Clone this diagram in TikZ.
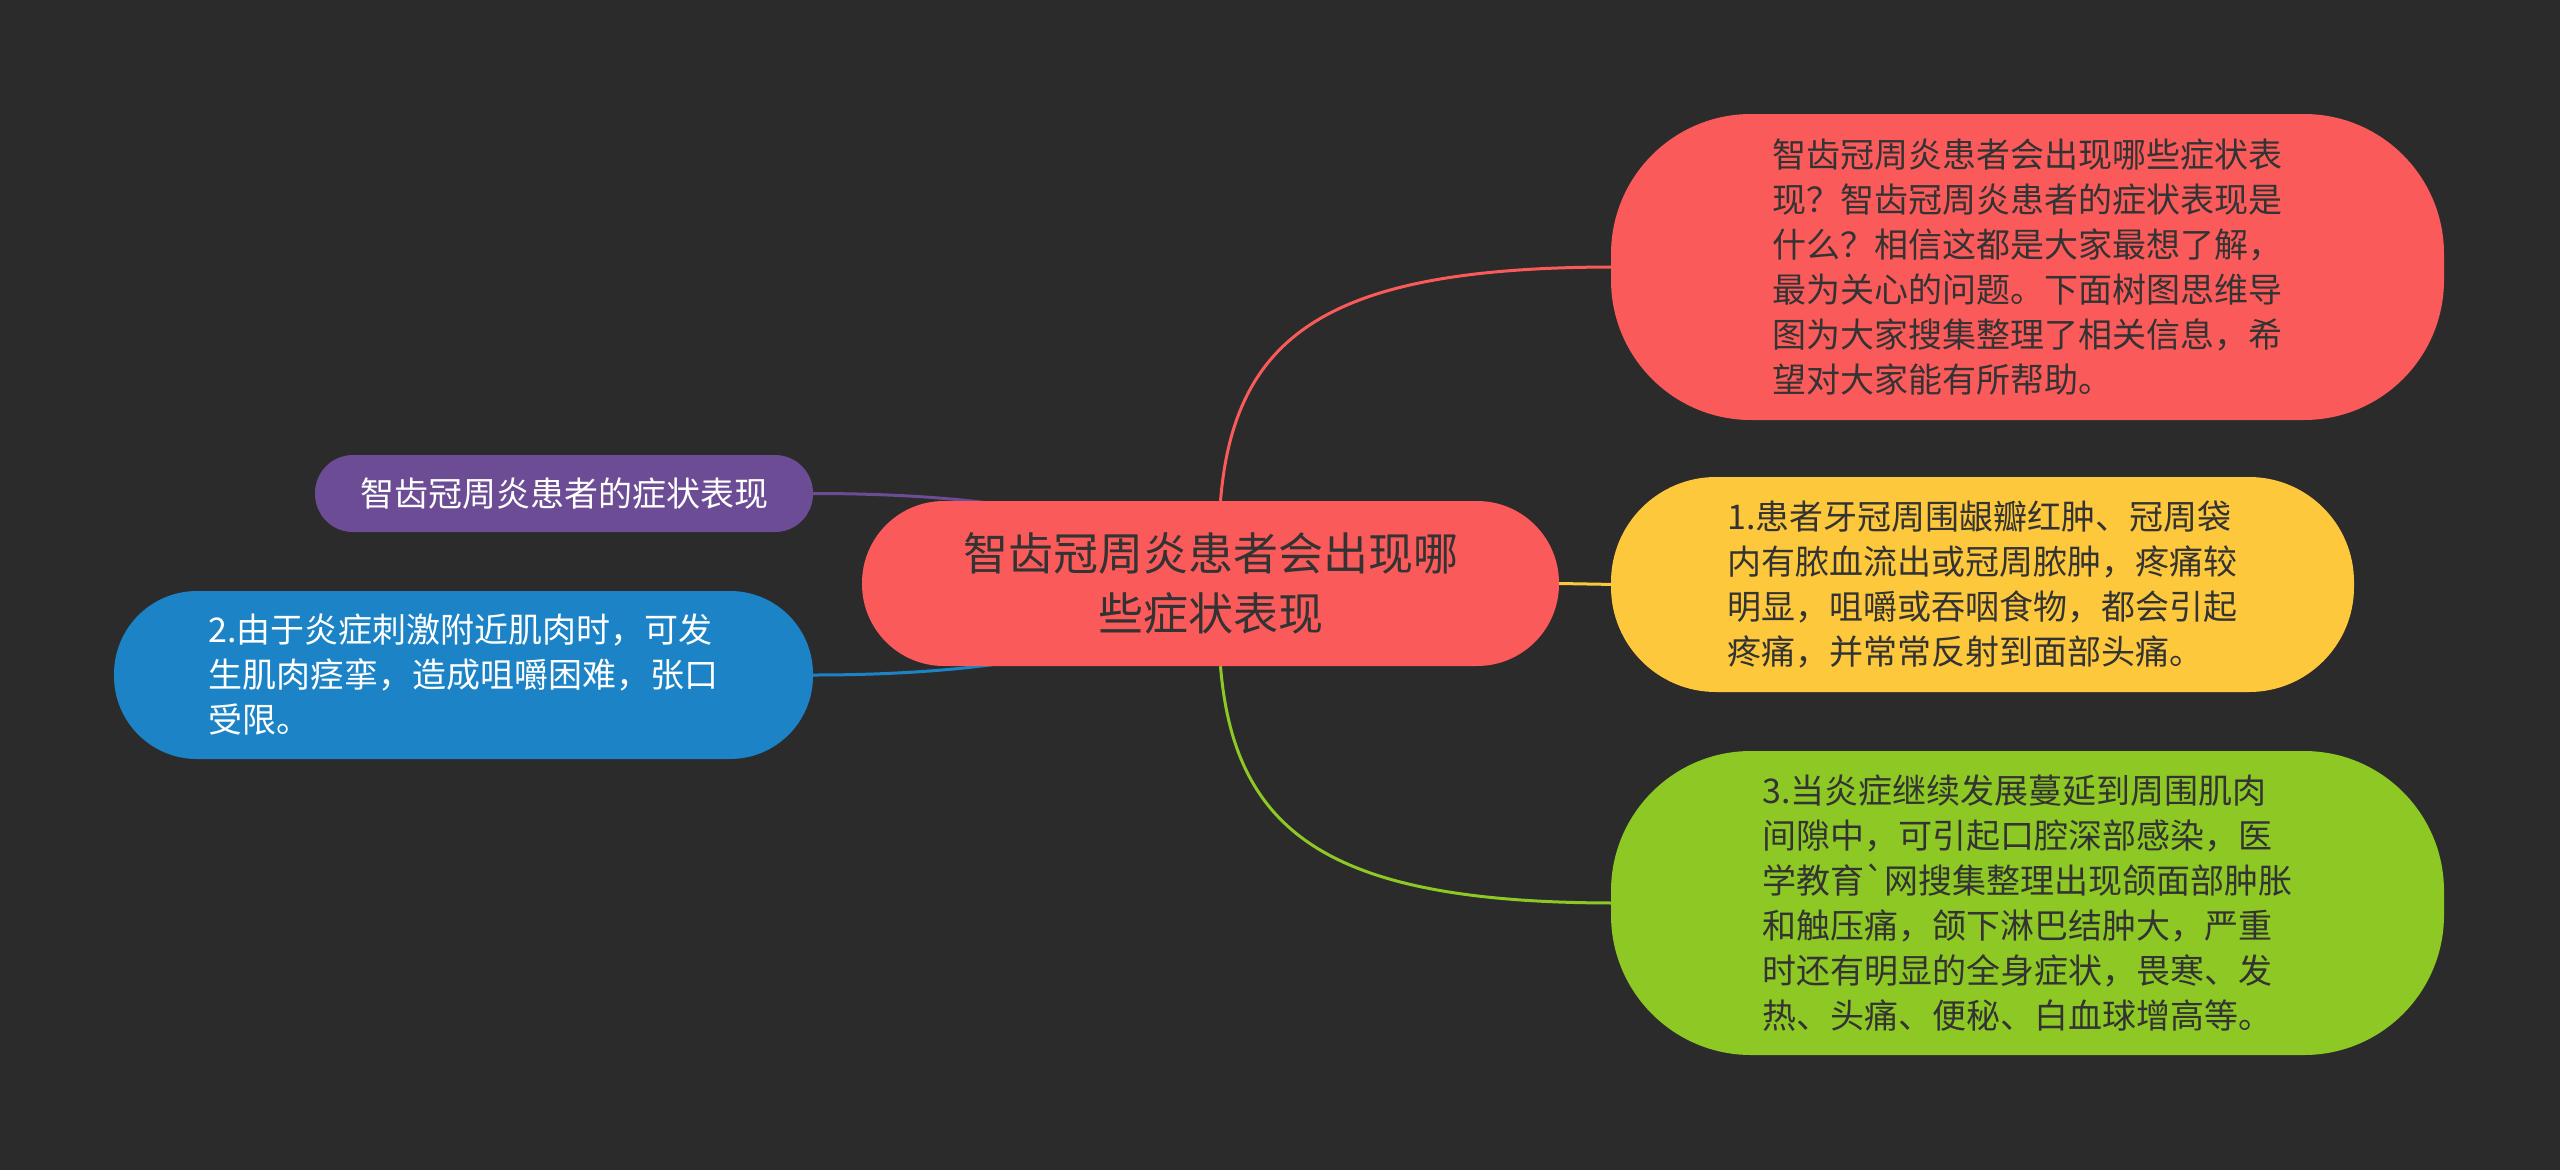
\documentclass[tikz,border=0pt]{standalone}
\usepackage{fontspec}
\setmainfont{Noto Sans CJK SC}
\usetikzlibrary{calc}
\definecolor{bgc}{HTML}{2B2B2B}
\definecolor{redc}{HTML}{FB5A5A}
\definecolor{yelc}{HTML}{FEC83C}
\definecolor{grnc}{HTML}{8DC824}
\definecolor{purc}{HTML}{6C4C94}
\definecolor{bluc}{HTML}{1C84C6}
\definecolor{darktxt}{HTML}{333333}
\pgfdeclarelayer{back}
\pgfdeclarelayer{bg}
\pgfsetlayers{back,bg,main}
\tikzset{
  box/.style={rectangle, inner sep=0pt, align=left, font=\fontsize{34}{45}\selectfont},
  conn/.style={line width=3pt},
}
\begin{document}
\begin{tikzpicture}[x=1pt,y=-1pt]
\begin{pgfonlayer}{back}
\fill[bgc] (0,0) rectangle (2560,1170);
\end{pgfonlayer}
\useasboundingbox (0,0) rectangle (2560,1170);

\node[box, fill=redc, text=darktxt, minimum width=697, minimum height=165, rounded corners=82, align=center, font=\fontsize{45}{60}\selectfont] (c) at (1210.5,583.5) {智齿冠周炎患者会出现哪\\些症状表现};

\node[box, fill=redc, text=darktxt, minimum width=833, minimum height=306, rounded corners=140] (r1) at (2027.5,267) {智齿冠周炎患者会出现哪些症状表\\现？智齿冠周炎患者的症状表现是\\什么？相信这都是大家最想了解，\\最为关心的问题。下面树图思维导\\图为大家搜集整理了相关信息，希\\望对大家能有所帮助。\hspace*{0pt}};

\node[box, fill=yelc, text=darktxt, minimum width=743, minimum height=215, rounded corners=105] (y1) at (1982.5,584.5) {1.患者牙冠周围龈瓣红肿、冠周袋\\内有脓血流出或冠周脓肿，疼痛较\\明显，咀嚼或吞咽食物，都会引起\\疼痛，并常常反射到面部头痛。};

\node[box, fill=grnc, text=darktxt, minimum width=833, minimum height=304, rounded corners=140] (g1) at (2027.5,903) {3.当炎症继续发展蔓延到周围肌肉\\间隙中，可引起口腔深部感染，医\\学教育\XeTeXglyph\XeTeXcharglyph"60\relax 网搜集整理出现颌面部肿胀\\和触压痛，颌下淋巴结肿大，严重\\时还有明显的全身症状，畏寒、发\\热、头痛、便秘、白血球增高等。};

\node[box, fill=purc, text=white, minimum width=498, minimum height=77, rounded corners=38] (p1) at (564,493.5) {智齿冠周炎患者的症状表现};

\node[box, fill=bluc, text=white, minimum width=699, minimum height=168, rounded corners=83] (b1) at (463.5,675) {2.由于炎症刺激附近肌肉时，可发\\生肌肉痉挛，造成咀嚼困难，张口\\受限。};

\begin{pgfonlayer}{bg}
\draw[conn, redc] ($(c.north)+(10,0)$) .. controls +(14,-171) and +(-281,0) .. ($(r1.west)+(5,0)$);
\draw[conn, yelc] (c.east) -- ($(y1.west)+(5,0)$);
\draw[conn, grnc] ($(c.south)+(10,0)$) .. controls +(14,171) and +(-281,0) .. ($(g1.west)+(5,0)$);
\draw[conn, purc] (p1.east) .. controls +(187,0) and +(-61,-64) .. (c.center);
\draw[conn, bluc] (b1.east) .. controls +(187,0) and +(-61,64) .. (c.center);
\end{pgfonlayer}
\end{tikzpicture}
\end{document}
